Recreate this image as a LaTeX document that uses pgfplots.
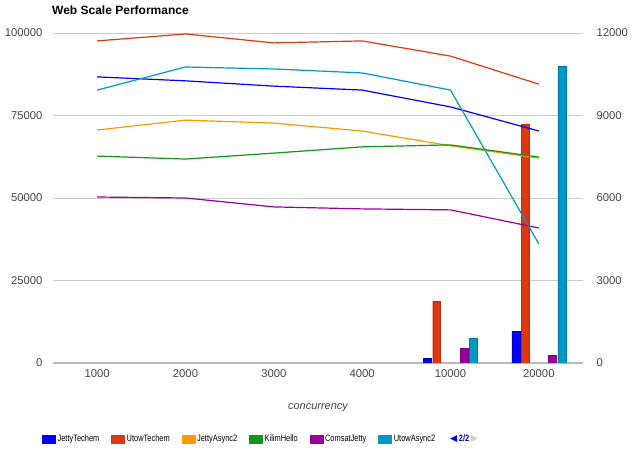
\documentclass[border=0pt]{standalone}
\usepackage{fontspec}
\setmainfont{Liberation Sans}
\newfontfamily\djv{DejaVu Sans}
\newfontfamily\legfont[FakeStretch=0.8]{Liberation Sans}
\usepackage{pgfplots}
\pgfplotsset{compat=1.18}
\definecolor{cJT}{HTML}{0000FF}
\definecolor{cUT}{HTML}{DC3912}
\definecolor{cJA}{HTML}{FF9900}
\definecolor{cKH}{HTML}{109618}
\definecolor{cCJ}{HTML}{990099}
\definecolor{cUA}{HTML}{0099C6}
\definecolor{tick}{HTML}{444444}
\definecolor{gridc}{HTML}{CCCCCC}
\begin{document}
\begin{tikzpicture}[x=1pt,y=1pt]
\path[use as bounding box] (0,0) rectangle (640,458);
\node[anchor=west,inner sep=0pt,font=\fontsize{12}{14}\selectfont\bfseries] at (52,448) {Web Scale Performance};
% bars on right axis
\begin{axis}[
  at={(53pt,95pt)}, anchor=south west, scale only axis,
  width=530pt, height=330pt,
  xmin=-0.5, xmax=5.5, ymin=0, ymax=12000,
  axis line style={draw=none},
  major tick length=0pt,
  xtick={0,1,2,3,4,5},
  xticklabels={1000,2000,3000,4000,10000,20000},
  ytick={0,3000,6000,9000,12000},
  yticklabel pos=right,
  ymajorgrids, grid style={gridc,line width=0.8pt},
  extra y ticks={0}, extra y tick labels={},
  extra y tick style={grid style={gridc!90!black,line width=1.6pt}},
  tick label style={font=\fontsize{11.3}{13}\selectfont, text=tick},
  scaled y ticks=false,
  yticklabel style={/pgf/number format/fixed,/pgf/number format/1000 sep={}, /pgf/number format/assume math mode=true, xshift=10pt},
  xticklabel style={yshift=-3pt},
  xlabel={\itshape concurrency},
  xlabel style={font=\fontsize{11}{13}\selectfont, text=tick, at={(axis description cs:0.5,0)}, anchor=center, yshift=-45pt},
  ybar, bar width=0.09,
  legend style={draw=none, fill=none, at={(-0.0208,-0.2303)}, anchor=west,
    legend columns=-1, inner sep=0pt, font=\legfont\fontsize{9.3}{11}\selectfont,
    /tikz/every odd column/.append style={column sep=2pt},
    /tikz/every even column/.append style={column sep=12pt},
    nodes={inner sep=0pt}},
  legend image code/.code={\fill[#1] (0pt,-4pt) rectangle (13pt,4pt);},
]
\addplot[forget plot, fill=cJT, draw=cJT!80!black, bar shift=-0.26] coordinates {(4,180) (5,1160)};
\addplot[forget plot, fill=cUT, draw=cUT!80!black, bar shift=-0.156] coordinates {(4,2250) (5,8690)};
\addplot[forget plot, fill=cCJ, draw=cCJ!80!black, bar shift=0.156] coordinates {(4,545) (5,290)};
\addplot[forget plot, fill=cUA, draw=cUA!80!black, bar shift=0.26] coordinates {(4,910) (5,10800)};
\addlegendimage{cJT}\addlegendentry{JettyTechem}
\addlegendimage{cUT}\addlegendentry{UtowTechem}
\addlegendimage{cJA}\addlegendentry{JettyAsync2}
\addlegendimage{cKH}\addlegendentry{KilimHello}
\addlegendimage{cCJ}\addlegendentry{ComsatJetty}
\addlegendimage{cUA}\addlegendentry{UtowAsync2}
\end{axis}
% lines on left axis
\begin{axis}[
  at={(53pt,95pt)}, anchor=south west, scale only axis,
  width=530pt, height=330pt,
  xmin=-0.5, xmax=5.5, ymin=0, ymax=100000,
  axis line style={draw=none},
  major tick length=0pt,
  xtick=\empty,
  ytick={0,25000,50000,75000,100000},
  yticklabel pos=left,
  tick label style={font=\fontsize{11.3}{13}\selectfont, text=tick},
  scaled y ticks=false,
  yticklabel style={/pgf/number format/fixed,/pgf/number format/1000 sep={}, /pgf/number format/assume math mode=true, xshift=-7pt},
  every axis plot/.append style={line width=1.2pt, no marks},
]
\addplot[cJT] coordinates {(0,86700) (1,85500) (2,83900) (3,82700) (4,77600) (5,70300)};
\addplot[cUT] coordinates {(0,97600) (1,99700) (2,97000) (3,97600) (4,93000) (5,84500)};
\addplot[cJA] coordinates {(0,70600) (1,73600) (2,72700) (3,70300) (4,65800) (5,62100)};
\addplot[cKH] coordinates {(0,62700) (1,61800) (2,63600) (3,65500) (4,66100) (5,62400)};
\addplot[cCJ] coordinates {(0,50300) (1,50000) (2,47300) (3,46700) (4,46400) (5,40900)};
\addplot[cUA] coordinates {(0,82700) (1,89700) (2,89100) (3,87900) (4,82700) (5,36100)};
\end{axis}
\node[anchor=west,inner sep=0pt,font=\fontsize{9.3}{11}\selectfont] at (450,19) {{\djv\textcolor{cJT}{◀}}\,\textcolor{cJT!80!black}{\legfont\bfseries 2/2}\,{\djv\textcolor{gridc}{▶}}};
\end{tikzpicture}
\end{document}
